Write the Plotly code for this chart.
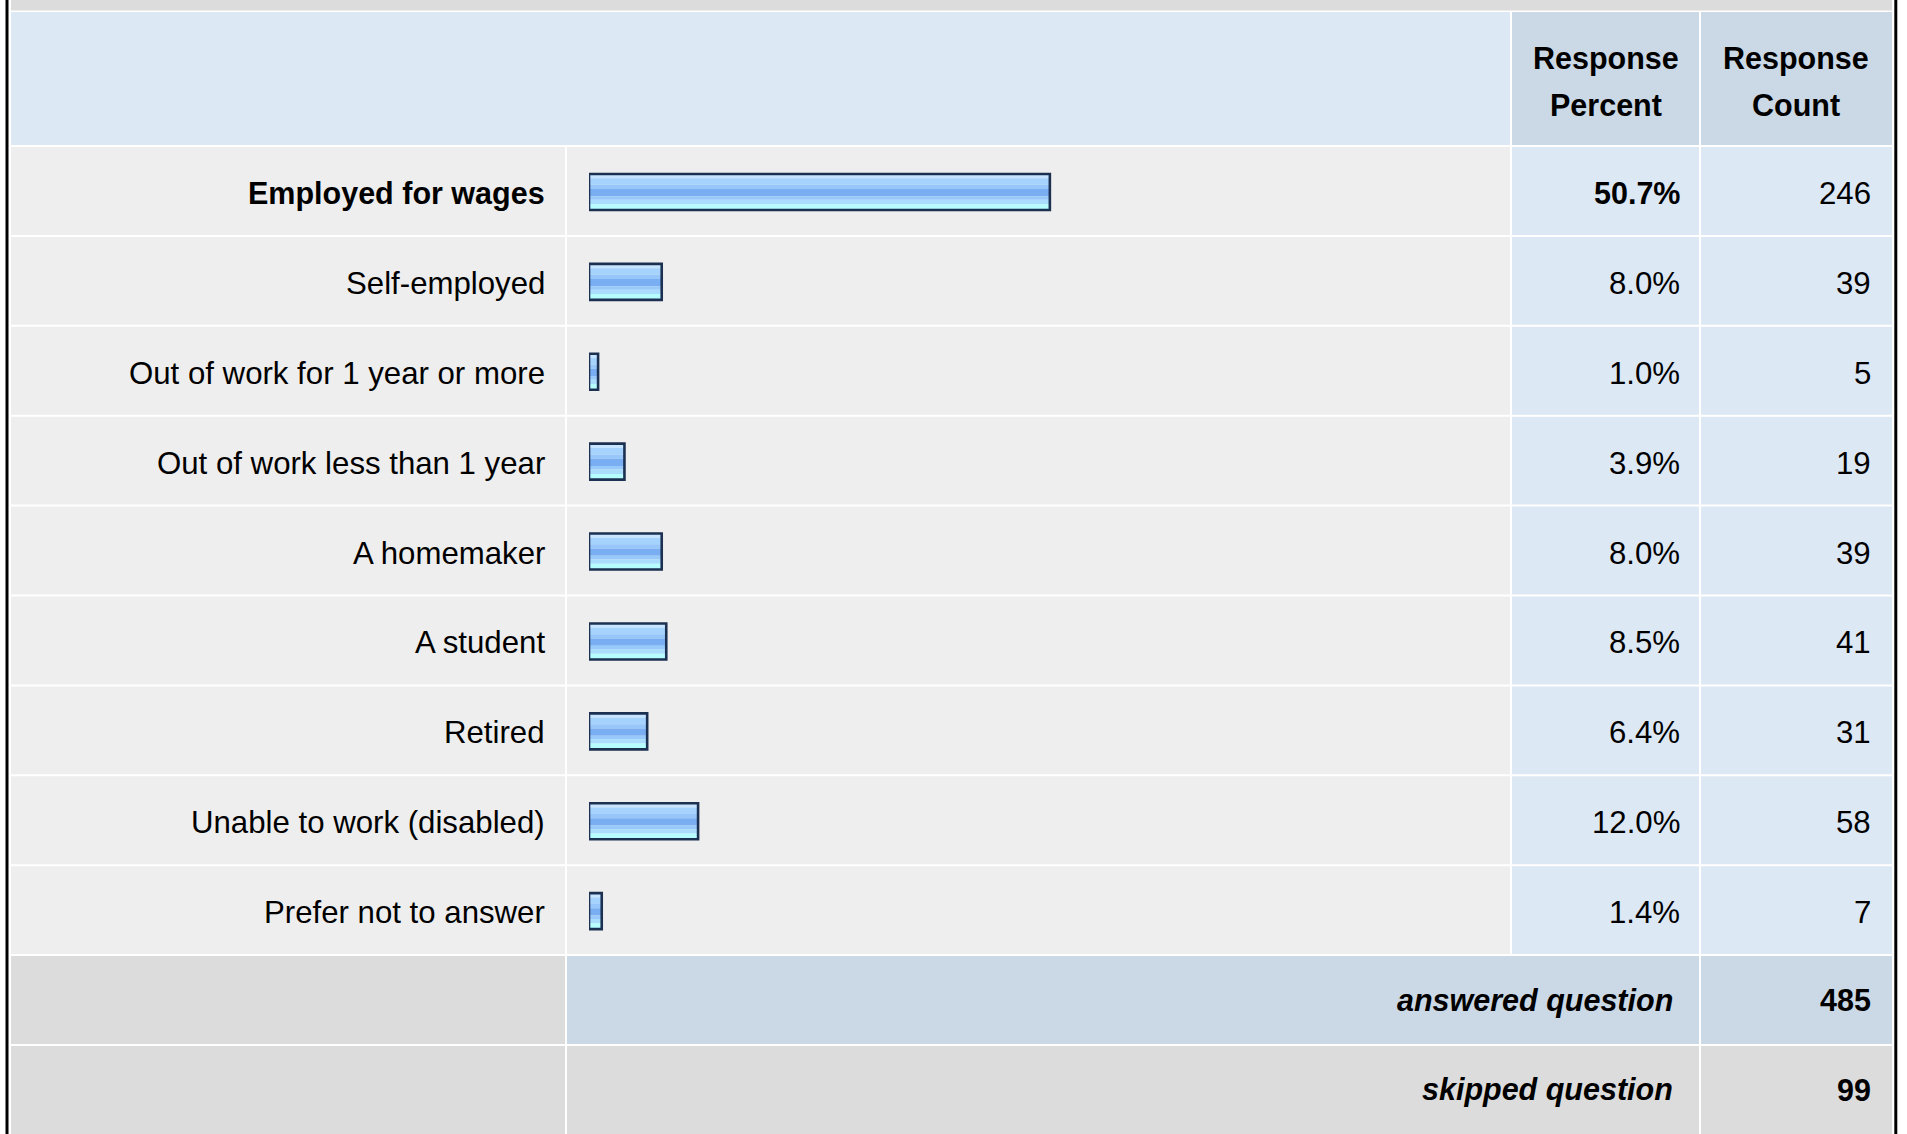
import plotly.graph_objects as go

# データ
labels = ['Employed for wages', 'Self-employed', 'Out of work for 1 year or more',
          'Out of work less than 1 year', 'A homemaker', 'A student', 'Retired',
          'Unable to work (disabled)', 'Prefer not to answer']
percent = [50.7, 8.0, 1.0, 3.9, 8.0, 8.5, 6.4, 12.0, 1.4]
counts = [246, 39, 5, 19, 39, 41, 31, 58, 7]
header_percent = ['Response', 'Percent']
header_count = ['Response', 'Count']
footer_labels = ['answered question', 'skipped question']
footer_counts = [485, 99]

# レイアウト設定（ピクセル）
W, H = 1907, 1134
ROW_TOP = 146
PITCH = 89.9
FONT = 'Liberation Sans, Arial, Helvetica, sans-serif'
FS = 31.2      # 標準
FS_B = 30.5    # 太字
cols = [(11, 565), (567, 1510), (1512, 1699), (1701, 1892)]


def ry(px):
    # ピクセル位置 → 行座標
    return (px - ROW_TOP) / PITCH - 0.5


def px(x):
    return x / W


g = 1 / PITCH
n = len(labels)
shapes = []


def cell(x0, x1, y0, y1, color):
    shapes.append(dict(type='rect', xref='paper', yref='y', x0=px(x0), x1=px(x1),
                       y0=y0, y1=y1, fillcolor=color, line_width=0, layer='below'))


# 上端のグレー帯とヘッダー
cell(cols[0][0], cols[3][1], ry(0), ry(10.5), '#dcdcdc')
cell(cols[0][0], cols[1][1], ry(12), -0.5 - g, '#dde8f5')
cell(cols[2][0], cols[2][1], ry(12), -0.5 - g, '#cbd8e6')
cell(cols[3][0], cols[3][1], ry(12), -0.5 - g, '#cbd8e6')

# データ行
for i in range(n):
    cell(cols[0][0], cols[0][1], i - 0.5 + g, i + 0.5 - g, '#eeeeee')
    cell(cols[1][0], cols[1][1], i - 0.5 + g, i + 0.5 - g, '#eeeeee')
    cell(cols[2][0], cols[2][1], i - 0.5 + g, i + 0.5 - g, '#dde8f5')
    cell(cols[3][0], cols[3][1], i - 0.5 + g, i + 0.5 - g, '#dde8f5')

# フッター行（answered / skipped）
footer_fill = ['#cbd8e6', '#dcdcdc']
for k in range(len(footer_labels)):
    r = n + k
    cell(cols[0][0], cols[0][1], r - 0.5 + g, r + 0.5 - g, '#dcdcdc')
    cell(cols[1][0], cols[2][1], r - 0.5 + g, r + 0.5 - g, footer_fill[k])
    cell(cols[3][0], cols[3][1], r - 0.5 + g, r + 0.5 - g, footer_fill[k])

# 左右の黒枠
for x0, x1 in [(5.5, 8.5), (1894.3, 1897.3)]:
    shapes.append(dict(type='rect', xref='paper', yref='paper', x0=px(x0), x1=px(x1),
                       y0=0, y1=1, fillcolor='black', line_width=0, layer='above'))

fig = go.Figure()

# 棒（横縞のグラデーション風）
BAR_W = 0.4
BAR_SHIFT = 1 / PITCH
stripes = [(0.00, 0.12, '#c6e4ff'), (0.12, 0.30, '#a5d3fd'), (0.30, 0.42, '#96c6fa'),
           (0.42, 0.62, '#79aff2'), (0.62, 0.72, '#98c9fb'), (0.72, 0.84, '#a9dcfd'),
           (0.84, 1.00, '#b6fdff')]
rows = list(range(n))
for f0, f1, c in stripes:
    fig.add_trace(go.Bar(x=percent, y=rows, orientation='h',
                         width=(f1 - f0) * BAR_W, offset=-BAR_W / 2 + f0 * BAR_W + BAR_SHIFT,
                         marker=dict(color=c, line_width=0),
                         hoverinfo='skip', showlegend=False))
fig.add_trace(go.Bar(x=percent, y=rows, orientation='h', width=BAR_W,
                     offset=-BAR_W / 2 + BAR_SHIFT,
                     marker=dict(color='rgba(0,0,0,0)', line=dict(color='#1c3152', width=2.6)),
                     customdata=labels, hovertemplate='%{customdata}: %{x}%<extra></extra>',
                     showlegend=False))

# テキスト
TXT_SHIFT = 2.5 / PITCH
imax = percent.index(max(percent))
ann = []


def add_text(x, y, text, anchor, bold=False, italic=False):
    if italic:
        text = '<i>' + text + '</i>'
    if bold:
        text = '<b>' + text + '</b>'
    ann.append(dict(x=px(x), y=y, text=text, xanchor=anchor, xref='paper', yref='y',
                    yanchor='middle', showarrow=False,
                    font=dict(family=FONT, size=FS_B if bold else FS, color='black')))


for i in range(n):
    b = i == imax
    add_text(546.5, i + TXT_SHIFT, labels[i], 'right', bold=b)
    add_text(1681.5, i + TXT_SHIFT, f'{percent[i]:.1f}%', 'right', bold=b)
    add_text(1872.5, i + TXT_SHIFT, str(counts[i]), 'right')

for k in range(len(footer_labels)):
    add_text(1675, n + k, footer_labels[k], 'right', bold=True, italic=True)
    add_text(1872.5, n + k, str(footer_counts[k]), 'right', bold=True)

for j, (hp, hc) in enumerate(zip(header_percent, header_count)):
    yy = ry(58.5) if j == 0 else ry(105)
    add_text(1606, yy, hp, 'center', bold=True)
    add_text(1796, yy, hc, 'center', bold=True)

fig.update_layout(
    width=W, height=H,
    margin=dict(l=0, r=0, t=0, b=0),
    paper_bgcolor='white',
    plot_bgcolor='rgba(0,0,0,0)',
    barmode='overlay',
    shapes=shapes,
    annotations=ann,
    xaxis=dict(domain=[px(589), px(1498)], range=[0, 100], visible=False, fixedrange=True),
    yaxis=dict(range=[ry(H), ry(0)], visible=False, fixedrange=True),
    showlegend=False,
)

# ページ余白を0にしてピクセル位置を合わせる
fig.write_html("out.html", config={'displayModeBar': False},
               post_script="document.body.style.margin='0px';")
